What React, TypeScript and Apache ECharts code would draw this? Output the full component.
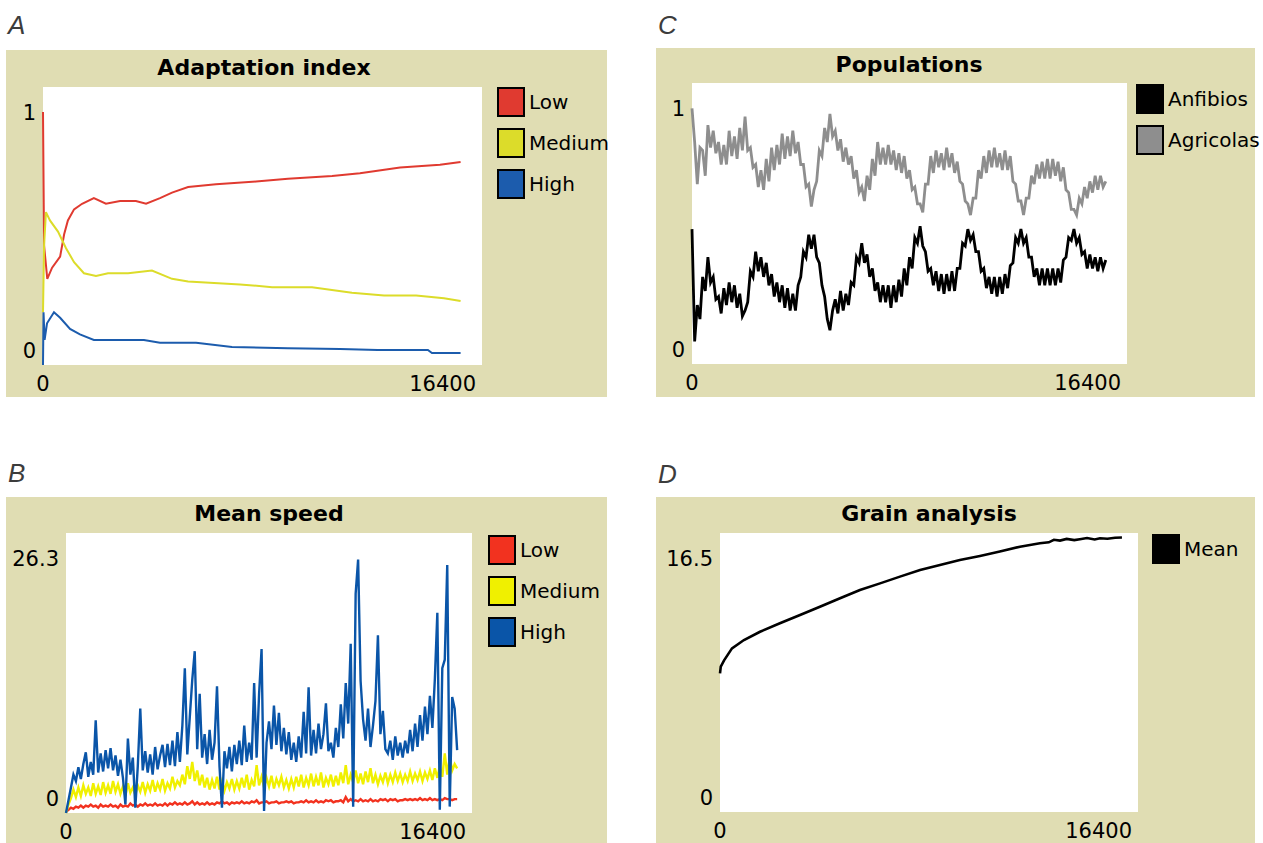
import React, { useEffect, useRef } from "react";
import * as echarts from "echarts";

// ---------- shared axis data ----------
const X_MAX = 16400;
const X_LABELS = ["0", "16400"];

// simulation ticks for the dense (noisy) series, step 100
const TICKS = [
  0, 100, 200, 300, 400, 500, 600, 700, 800, 900,
  1000, 1100, 1200, 1300, 1400, 1500, 1600, 1700, 1800, 1900,
  2000, 2100, 2200, 2300, 2400, 2500, 2600, 2700, 2800, 2900,
  3000, 3100, 3200, 3300, 3400, 3500, 3600, 3700, 3800, 3900,
  4000, 4100, 4200, 4300, 4400, 4500, 4600, 4700, 4800, 4900,
  5000, 5100, 5200, 5300, 5400, 5500, 5600, 5700, 5800, 5900,
  6000, 6100, 6200, 6300, 6400, 6500, 6600, 6700, 6800, 6900,
  7000, 7100, 7200, 7300, 7400, 7500, 7600, 7700, 7800, 7900,
  8000, 8100, 8200, 8300, 8400, 8500, 8600, 8700, 8800, 8900,
  9000, 9100, 9200, 9300, 9400, 9500, 9600, 9700, 9800, 9900,
  10000, 10100, 10200, 10300, 10400, 10500, 10600, 10700, 10800, 10900,
  11000, 11100, 11200, 11300, 11400, 11500, 11600, 11700, 11800, 11900,
  12000, 12100, 12200, 12300, 12400, 12500, 12600, 12700, 12800, 12900,
  13000, 13100, 13200, 13300, 13400, 13500, 13600, 13700, 13800, 13900,
  14000, 14100, 14200, 14300, 14400, 14500, 14600, 14700, 14800, 14900,
  15000, 15100, 15200, 15300, 15400, 15500, 15600, 15700, 15800,
];

// ---------- A: Adaptation index ----------
const A_Y_MAX = 1;
const A_Y_LABELS = ["0", "1"];
const A_NAMES = ["Low", "Medium", "High"];
const A_LOW_T = [0, 40, 160, 340, 640, 790, 930, 1160, 1460, 1900, 2350, 2880, 3470, 3850, 4370, 4820, 5420, 6460, 7960, 9150, 10800, 11840, 13340, 14830, 15600];
const A_LOW = [0.91, 0.43, 0.31, 0.35, 0.39, 0.47, 0.52, 0.56, 0.58, 0.6, 0.58, 0.59, 0.59, 0.58, 0.6, 0.62, 0.64, 0.65, 0.66, 0.67, 0.68, 0.69, 0.71, 0.72, 0.73];
const A_MED_T = [0, 40, 110, 260, 560, 860, 1160, 1530, 1980, 2430, 3180, 4070, 4820, 5420, 7360, 8560, 10050, 11540, 12740, 13940, 14980, 15600];
const A_MED = [0.19, 0.43, 0.55, 0.52, 0.48, 0.42, 0.37, 0.33, 0.32, 0.33, 0.33, 0.34, 0.31, 0.3, 0.29, 0.28, 0.28, 0.26, 0.25, 0.25, 0.24, 0.23];
const A_HIGH_T = [0, 20, 60, 150, 410, 640, 1010, 1380, 1900, 2880, 3770, 4370, 5720, 7060, 9150, 11100, 12500, 14380, 14530, 15600];
const A_HIGH = [0.0, 0.19, 0.09, 0.15, 0.19, 0.17, 0.13, 0.11, 0.09, 0.09, 0.09, 0.08, 0.08, 0.065, 0.06, 0.058, 0.054, 0.054, 0.043, 0.043];

// ---------- B: Mean speed ----------
const B_Y_MAX = 26.3;
const B_Y_LABELS = ["0", "26.3"];
const B_NAMES = ["Low", "Medium", "High"];
const B_LOW = [
  0.1, 0.3, 0.5, 0.4, 0.6, 0.5, 0.7, 0.5, 0.7, 0.6,
  0.8, 0.6, 0.7, 0.5, 0.8, 0.6, 0.7, 0.6, 0.8, 0.6,
  0.7, 0.5, 0.8, 0.6, 0.7, 0.6, 0.9, 0.7, 0.8, 0.6,
  0.8, 0.7, 0.9, 0.7, 0.8, 0.7, 0.9, 0.7, 0.8, 0.7,
  0.9, 0.7, 0.9, 0.8, 1.0, 0.8, 0.9, 0.8, 1.0, 0.8,
  0.9, 1.1, 0.8, 1.0, 0.8, 0.9, 0.8, 1.0, 0.8, 0.9,
  0.8, 1.0, 0.9, 1.1, 0.9, 1.0, 0.8, 1.0, 0.9, 1.0,
  0.9, 1.1, 0.9, 1.0, 0.9, 1.1, 1.0, 1.2, 0.9, 1.0,
  1.0, 1.1, 0.9, 1.0, 1.0, 1.1, 0.9, 1.0, 1.0, 1.1,
  1.0, 1.1, 0.9, 1.0, 1.0, 1.1, 1.0, 1.2, 1.0, 1.1,
  1.0, 1.2, 1.0, 1.1, 1.0, 1.2, 1.1, 1.2, 1.0, 1.1,
  1.1, 1.2, 1.0, 1.5, 1.1, 1.3, 1.1, 1.2, 1.1, 1.3,
  1.1, 1.2, 1.1, 1.3, 1.1, 1.2, 1.1, 1.3, 1.2, 1.3,
  1.1, 1.3, 1.2, 1.3, 1.1, 1.2, 1.2, 1.3, 1.2, 1.3,
  1.2, 1.3, 1.2, 1.4, 1.2, 1.3, 1.2, 1.4, 1.2, 1.3,
  1.2, 1.3, 1.2, 1.4, 1.3, 1.3, 1.2, 1.3, 1.3,
];
const B_MED = [
  0.0, 0.8, 1.4, 2.2, 1.5, 2.4, 1.6, 2.6, 1.8, 2.4,
  1.6, 2.8, 1.8, 2.5, 1.7, 2.9, 1.9, 2.6, 1.8, 3.0,
  2.0, 2.7, 1.8, 2.5, 1.6, 2.8, 1.9, 2.4, 1.7, 2.6,
  2.0, 2.9, 1.9, 2.7, 2.1, 3.1, 2.0, 2.8, 2.2, 3.2,
  2.1, 2.8, 2.3, 3.4, 2.4, 3.0, 2.6, 3.6, 2.7, 4.4,
  3.2, 4.8, 3.0, 4.0, 2.6, 3.6, 2.4, 3.3, 2.2, 3.1,
  2.3, 3.4, 2.2, 3.0, 2.1, 2.9, 2.3, 3.2, 2.2, 3.0,
  2.3, 3.3, 2.4, 3.6, 2.2, 3.1, 2.5, 4.5, 2.6, 3.4,
  2.4, 3.3, 2.5, 3.5, 2.3, 3.2, 2.6, 3.4, 2.4, 3.1,
  2.3, 3.2, 2.4, 3.4, 2.5, 3.6, 2.4, 3.3, 2.6, 3.7,
  2.5, 3.4, 2.6, 3.8, 2.4, 3.3, 2.7, 3.6, 2.5, 3.5,
  2.6, 3.8, 2.8, 4.5, 2.7, 3.6, 2.9, 4.0, 2.8, 3.7,
  2.7, 3.9, 2.9, 4.2, 2.8, 3.6, 2.7, 3.5, 2.9, 3.8,
  2.8, 3.6, 2.9, 3.8, 3.0, 3.7, 2.9, 3.6, 3.0, 3.9,
  3.0, 3.7, 3.1, 3.9, 3.0, 3.8, 3.2, 4.0, 3.1, 4.2,
  3.3, 4.4, 3.4, 5.6, 3.6, 5.2, 4.0, 4.6, 4.2,
];
const B_HIGH = [
  0.0, 1.2, 2.4, 3.6, 3.0, 4.3, 3.2, 4.6, 5.7, 3.4,
  4.8, 3.6, 8.7, 3.8, 5.6, 3.9, 5.9, 4.2, 6.1, 4.0,
  5.4, 3.5, 5.0, 3.3, 0.8, 7.0, 3.6, 5.2, 0.5, 4.4,
  9.8, 4.0, 5.8, 3.8, 5.5, 3.6, 6.2, 4.1, 5.4, 6.4,
  4.3, 6.5, 4.5, 6.8, 4.4, 7.6, 4.8, 8.2, 13.6, 5.5,
  9.0, 12.5, 15.2, 6.0, 11.2, 5.2, 7.4, 4.6, 7.8, 5.0,
  6.6, 11.9, 4.4, 0.5, 5.8, 4.2, 6.2, 3.9, 6.4, 4.6,
  6.8, 4.5, 8.2, 4.8, 6.6, 5.0, 12.2, 5.2, 11.2, 15.4,
  0.2, 6.6, 8.6, 6.0, 10.1, 6.4, 9.4, 5.8, 8.0, 5.5,
  7.6, 5.0, 6.6, 4.8, 7.2, 5.2, 9.5, 5.6, 11.8, 5.4,
  7.8, 5.6, 8.4, 6.0, 7.4, 10.3, 5.8, 6.6, 5.2, 8.0,
  6.2, 10.2, 7.0, 12.2, 8.4, 15.9, 0.6, 20.6, 23.8, 12.4,
  8.8, 6.8, 9.8, 6.2, 8.2, 10.5, 16.7, 7.4, 9.6, 6.0,
  5.6, 6.8, 5.0, 7.2, 5.4, 6.6, 5.2, 6.8, 5.6, 7.8,
  5.8, 8.4, 6.2, 9.2, 6.8, 10.0, 7.4, 11.0, 8.0, 12.6,
  18.8, 0.3, 13.6, 14.4, 23.3, 0.6, 10.9, 9.8, 5.9,
];

// ---------- C: Populations ----------
const C_Y_MAX = 1;
const C_Y_LABELS = ["0", "1"];
const C_NAMES = ["Anfibios", "Agricolas"];
const C_ANFIBIOS = [
  0.48, 0.08, 0.21, 0.16, 0.31, 0.26, 0.38, 0.29, 0.31, 0.23,
  0.24, 0.18, 0.27, 0.21, 0.29, 0.22, 0.28, 0.2, 0.25, 0.17,
  0.19, 0.22, 0.33, 0.31, 0.4, 0.33, 0.38, 0.31, 0.36, 0.28,
  0.32, 0.24, 0.29, 0.22, 0.28, 0.2, 0.27, 0.19, 0.25, 0.19,
  0.28, 0.31, 0.4, 0.38, 0.46, 0.41, 0.46, 0.38, 0.36, 0.28,
  0.24, 0.16, 0.12, 0.19, 0.23, 0.18, 0.26, 0.19, 0.25, 0.21,
  0.29, 0.28, 0.38, 0.36, 0.43, 0.36, 0.39, 0.31, 0.34, 0.26,
  0.29, 0.22, 0.28, 0.22, 0.28, 0.2, 0.28, 0.22, 0.3, 0.24,
  0.34, 0.28, 0.38, 0.34, 0.45, 0.43, 0.49, 0.42, 0.4, 0.33,
  0.34, 0.28, 0.33, 0.26, 0.32, 0.25, 0.32, 0.26, 0.33, 0.26,
  0.34, 0.34, 0.43, 0.42, 0.48, 0.44, 0.46, 0.4, 0.4, 0.33,
  0.34, 0.27, 0.31, 0.25, 0.31, 0.24, 0.31, 0.25, 0.32, 0.27,
  0.35, 0.36, 0.45, 0.43, 0.48, 0.43, 0.45, 0.38, 0.38, 0.31,
  0.34, 0.28, 0.34, 0.28, 0.34, 0.28, 0.34, 0.28, 0.34, 0.29,
  0.37, 0.38, 0.45, 0.44, 0.48, 0.43, 0.45, 0.39, 0.4, 0.34,
  0.39, 0.34, 0.38, 0.33, 0.38, 0.34, 0.37,
];
const C_AGRICOLAS = [
  0.91, 0.79, 0.64, 0.77, 0.76, 0.67, 0.85, 0.77, 0.83, 0.75,
  0.79, 0.71, 0.78, 0.71, 0.83, 0.74, 0.81, 0.73, 0.84, 0.76,
  0.88, 0.76, 0.77, 0.7, 0.71, 0.63, 0.69, 0.62, 0.73, 0.65,
  0.77, 0.69, 0.78, 0.71, 0.82, 0.73, 0.81, 0.74, 0.83, 0.75,
  0.79, 0.71, 0.71, 0.63, 0.64, 0.56, 0.62, 0.65, 0.76, 0.74,
  0.84, 0.79, 0.89, 0.81, 0.83, 0.76, 0.8, 0.72, 0.77, 0.71,
  0.74, 0.66, 0.69, 0.61, 0.63, 0.58, 0.67, 0.62, 0.73, 0.67,
  0.79, 0.71, 0.77, 0.71, 0.78, 0.71, 0.76, 0.69, 0.75, 0.68,
  0.74, 0.66, 0.69, 0.62, 0.63, 0.57, 0.57, 0.54, 0.64, 0.64,
  0.74, 0.68, 0.76, 0.7, 0.75, 0.69, 0.77, 0.7, 0.75, 0.68,
  0.72, 0.65, 0.64, 0.58, 0.57, 0.53, 0.59, 0.59, 0.69, 0.66,
  0.74, 0.68, 0.76, 0.7, 0.77, 0.7, 0.75, 0.69, 0.76, 0.69,
  0.74, 0.65, 0.64, 0.58, 0.58, 0.53, 0.59, 0.59, 0.67, 0.64,
  0.71, 0.66, 0.72, 0.66, 0.73, 0.66, 0.73, 0.67, 0.72, 0.65,
  0.7, 0.62, 0.61, 0.55, 0.55, 0.53, 0.59, 0.57, 0.63, 0.59,
  0.65, 0.61, 0.67, 0.62, 0.67, 0.63, 0.65,
];

// ---------- D: Grain analysis ----------
const D_Y_MAX = 16.5;
const D_Y_LABELS = ["0", "16.5"];
const D_NAMES = ["Mean"];
const D_MEAN_T = [0, 30, 160, 470, 940, 1570, 2350, 3140, 3920, 4710, 5490, 6280, 7060, 7850, 8630, 9410, 10200, 10980, 11770, 12550, 12900, 13100, 13340, 13600, 13900, 14120, 14400, 14700, 14910, 15200, 15500, 15770];
const D_MEAN = [8.2, 8.6, 8.97, 9.68, 10.17, 10.66, 11.16, 11.65, 12.14, 12.64, 13.13, 13.52, 13.92, 14.31, 14.61, 14.9, 15.14, 15.4, 15.69, 15.89, 15.95, 16.1, 16.05, 16.15, 16.08, 16.13, 16.2, 16.12, 16.19, 16.16, 16.22, 16.23];

// ---------- styling & layout ----------
const FONT = "'DejaVu Sans', Tahoma, Verdana, sans-serif";
const LETTER_FONT = "'Liberation Sans', Arial, sans-serif";
const KHAKI = "#e0ddb3";
const COLORS_A = ["#e03a30", "#dcdc2a", "#1c5cad"];
const COLORS_B = ["#f2321f", "#f0f000", "#0a55a8"];
const COLORS_C = ["#000000", "#8e8e8e"];
const COLORS_D = ["#000000"];
const WIDTHS_A = [2, 2, 2];
const WIDTHS_B = [2.4, 2.4, 2.4];
const WIDTHS_C = [2.8, 2.8];
const WIDTHS_D = [2.6];

type Layout = {
  panel: number[];
  plot: number[];
  titleX: number;
  titleY: number;
  letter: number[];
  legend: number[];
};
const LAYOUT: Record<string, Layout> = {
  A: { panel: [6, 50, 601, 347], plot: [43, 87, 439, 278], titleX: 264, titleY: 56, letter: [8, 12], legend: [497, 87] },
  B: { panel: [6, 497, 601, 346], plot: [66, 533, 406, 280], titleX: 269, titleY: 502, letter: [8, 460], legend: [488, 535] },
  C: { panel: [656, 48, 599, 349], plot: [692, 83, 435, 281], titleX: 909, titleY: 53, letter: [658, 12], legend: [1136, 84] },
  D: { panel: [656, 497, 599, 346], plot: [720, 533, 418, 279], titleX: 929, titleY: 502, letter: [658, 461], legend: [1152, 534] },
};

const pts = (ts: number[], vs: number[]) => vs.map((v, i) => [ts[i], v]);

function buildOption() {
  const panels = [
    {
      id: "A", title: "Adaptation index", yMax: A_Y_MAX, yLabels: A_Y_LABELS, names: A_NAMES, colors: COLORS_A, widths: WIDTHS_A,
      data: [pts(A_LOW_T, A_LOW), pts(A_MED_T, A_MED), pts(A_HIGH_T, A_HIGH)],
    },
    {
      id: "B", title: "Mean speed", yMax: B_Y_MAX, yLabels: B_Y_LABELS, names: B_NAMES, colors: COLORS_B, widths: WIDTHS_B,
      data: [pts(TICKS, B_LOW), pts(TICKS, B_MED), pts(TICKS, B_HIGH)],
    },
    {
      id: "C", title: "Populations", yMax: C_Y_MAX, yLabels: C_Y_LABELS, names: C_NAMES, colors: COLORS_C, widths: WIDTHS_C,
      data: [pts(TICKS, C_ANFIBIOS), pts(TICKS, C_AGRICOLAS)],
    },
    {
      id: "D", title: "Grain analysis", yMax: D_Y_MAX, yLabels: D_Y_LABELS, names: D_NAMES, colors: COLORS_D, widths: WIDTHS_D,
      data: [pts(D_MEAN_T, D_MEAN)],
    },
  ];

  const labelBase = { fontFamily: FONT, fontSize: 21, color: "#000", lineHeight: 21 };
  const noLines = { axisLine: { show: false }, axisTick: { show: false }, splitLine: { show: false } };

  const grid: any[] = [];
  const xAxis: any[] = [];
  const yAxis: any[] = [];
  const series: any[] = [];
  const legend: any[] = [];
  const title: any[] = [];
  const graphics: any[] = [];

  panels.forEach((p, i) => {
    const L = LAYOUT[p.id];
    graphics.push({
      type: "rect", silent: true, z: -20,
      shape: { x: L.panel[0], y: L.panel[1], width: L.panel[2], height: L.panel[3] },
      style: { fill: KHAKI },
    });
    graphics.push({
      type: "rect", silent: true, z: -19,
      shape: { x: L.plot[0], y: L.plot[1], width: L.plot[2], height: L.plot[3] },
      style: { fill: "#ffffff" },
    });
    grid.push({ left: L.plot[0], top: L.plot[1], width: L.plot[2], height: L.plot[3], show: false });

    xAxis.push({
      gridIndex: i, type: "value", position: "bottom", min: 0, max: X_MAX, interval: X_MAX, ...noLines,
      axisLabel: { ...labelBase, margin: 8, formatter: (v: number) => (v === 0 ? X_LABELS[0] : "") },
    });
    xAxis.push({
      gridIndex: i, type: "value", position: "bottom", min: 0, max: X_MAX, interval: X_MAX, ...noLines,
      axisLabel: {
        ...labelBase, margin: 8, align: "right", padding: [0, 6, 0, 0],
        formatter: (v: number) => (v === X_MAX ? X_LABELS[1] : ""),
      },
    });
    yAxis.push({
      gridIndex: i, type: "value", position: "left", min: 0, max: p.yMax, interval: p.yMax, ...noLines,
      axisLabel: {
        ...labelBase, margin: 7, verticalAlign: "top", padding: [15, 0, 0, 0],
        formatter: (v: number) => (v > 0 ? p.yLabels[1] : ""),
      },
    });
    yAxis.push({
      gridIndex: i, type: "value", position: "left", min: 0, max: p.yMax, interval: p.yMax, ...noLines,
      axisLabel: {
        ...labelBase, margin: 7, verticalAlign: "bottom", padding: [0, 0, 4, 0],
        formatter: (v: number) => (v === 0 ? p.yLabels[0] : ""),
      },
    });

    p.names.forEach((name, k) => {
      series.push({
        type: "line", name, xAxisIndex: 2 * i, yAxisIndex: 2 * i,
        data: p.data[k], showSymbol: false, symbol: "none", silent: true,
        emphasis: { disabled: true },
        lineStyle: { width: p.widths[k], color: p.colors[k], join: "miter" },
        itemStyle: { color: p.colors[k] },
        z: 2 + k,
      });
    });

    legend.push({
      orient: "vertical", left: L.legend[0], top: L.legend[1], padding: 0,
      itemWidth: 26, itemHeight: 28, itemGap: 11, icon: "rect", selectedMode: false,
      itemStyle: { borderColor: "#000", borderWidth: 2 },
      textStyle: { fontFamily: FONT, fontSize: 20, color: "#000" },
      data: p.names.map((name, k) => ({
        name,
        itemStyle: { color: p.colors[k], borderColor: "#000", borderWidth: 2 },
      })),
    });

    title.push({
      text: p.title, left: L.titleX, top: L.titleY, textAlign: "center", padding: 0,
      textStyle: { fontFamily: FONT, fontSize: 22, fontWeight: "bold", color: "#000", lineHeight: 22 },
    });
    title.push({
      text: p.id, left: L.letter[0], top: L.letter[1], padding: 0,
      textStyle: { fontFamily: LETTER_FONT, fontSize: 26, fontStyle: "italic", fontWeight: "normal", color: "#3c3c3c", lineHeight: 26 },
    });
  });

  return {
    animation: false,
    backgroundColor: "#ffffff",
    graphic: { elements: graphics },
    title,
    legend,
    grid,
    xAxis,
    yAxis,
    series,
  };
}

export default function App() {
  const ref = useRef<HTMLDivElement>(null);
  useEffect(() => {
    if (!ref.current) return;
    const chart = echarts.init(ref.current, null, { renderer: "svg" });
    chart.setOption(buildOption() as any);
    return () => chart.dispose();
  }, []);
  return (
    <div
      ref={ref}
      style={{ position: "absolute", left: 0, top: 0, width: 1263, height: 843, background: "#fff" }}
    />
  );
}
